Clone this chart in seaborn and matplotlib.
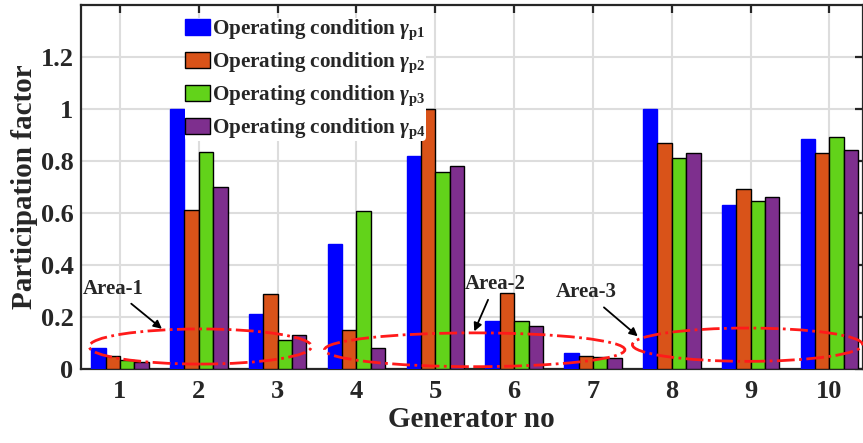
import matplotlib
matplotlib.use("Agg")
import matplotlib.pyplot as plt
import seaborn as sns
import pandas as pd
from matplotlib.patches import Ellipse, Patch

generators = ["1", "2", "3", "4", "5", "6", "7", "8", "9", "10"]
gamma_p1 = [0.081, 1.0, 0.21, 0.481, 0.819, 0.186, 0.060, 1.0, 0.631, 0.885]
gamma_p2 = [0.050, 0.612, 0.290, 0.151, 1.0, 0.291, 0.051, 0.869, 0.691, 0.831]
gamma_p3 = [0.035, 0.833, 0.112, 0.609, 0.756, 0.186, 0.046, 0.812, 0.647, 0.893]
gamma_p4 = [0.027, 0.698, 0.131, 0.082, 0.782, 0.164, 0.043, 0.832, 0.662, 0.842]
labels = [r"Operating condition $\gamma_{\mathbf{p1}}$",
          r"Operating condition $\gamma_{\mathbf{p2}}$",
          r"Operating condition $\gamma_{\mathbf{p3}}$",
          r"Operating condition $\gamma_{\mathbf{p4}}$"]
colors = ["#0000FF", "#D95319", "#62D31A", "#7E2F8E"]
edges = ["#0000FF", "#000000", "#000000", "#000000"]

sns.set_style("white")
plt.rcParams["font.family"] = ["Liberation Serif", "DejaVu Serif"]
plt.rcParams["font.weight"] = "bold"
plt.rcParams["mathtext.fontset"] = "custom"
plt.rcParams["mathtext.rm"] = "Liberation Serif"
plt.rcParams["mathtext.it"] = "Liberation Serif:italic"
plt.rcParams["mathtext.bf"] = "Liberation Serif:bold"

rows = []
for lab, vals in zip(labels, [gamma_p1, gamma_p2, gamma_p3, gamma_p4]):
    for g, v in zip(generators, vals):
        rows.append({"Generator": g, "Value": v, "Condition": lab})
df = pd.DataFrame(rows)

fig = plt.figure(figsize=(8.63, 4.43), dpi=100)
ax = fig.add_axes([0.0933, 0.167, 0.9067, 0.822])

sns.barplot(data=df, x="Generator", y="Value", hue="Condition", order=generators,
            hue_order=labels, palette=colors, saturation=1, width=0.73, gap=0, ax=ax,
            errorbar=None, legend=False, zorder=3)
for cont, ec in zip(ax.containers, edges):
    for p in cont:
        p.set_edgecolor(ec)
        p.set_linewidth(1.0)

ax.set_xlim(-0.5, 9.425)
ax.set_ylim(0, 1.4)
ax.set_yticks([0, 0.2, 0.4, 0.6, 0.8, 1.0, 1.2])
ax.set_yticklabels(["0", "0.2", "0.4", "0.6", "0.8", "1", "1.2"])
ax.grid(True, color="#DDDDDD", linewidth=1.5, zorder=0)
ax.set_axisbelow(True)
for s in ax.spines.values():
    s.set_color("#262626")
    s.set_linewidth(1.6)
ax.tick_params(direction="in", length=6, width=1.6, top=True, right=True,
               labelsize=19, colors="#262626")
ax.tick_params(axis="y", pad=5)
ax.tick_params(axis="x", pad=8)
for t in ax.get_xticklabels() + ax.get_yticklabels():
    t.set_fontweight("bold")
ax.set_xlabel("Generator no", fontsize=21, fontweight="bold", color="#262626", labelpad=2)
ax.set_ylabel("Participation factor", fontsize=21, fontweight="bold", color="#262626", labelpad=2)

# ellipses
ell_style = dict(fill=False, edgecolor="#FF1A1A", linestyle="-.", linewidth=2.0, zorder=5)
ax.add_patch(Ellipse((2.02 - 1, 0.0865), 2.82, 0.135, **ell_style))
ax.add_patch(Ellipse((5.50 - 1, 0.074), 3.81, 0.13, **ell_style))
ax.add_patch(Ellipse((8.96 - 1, 0.0935), 2.92, 0.128, **ell_style))

arrow = dict(arrowstyle="-|>", color="black", lw=1.3, mutation_scale=12)
ax.annotate("Area-1", xy=(1.56 - 1, 0.148), xytext=(0.91 - 1, 0.309), fontsize=15,
            fontweight="bold", ha="center", va="center", arrowprops=arrow, zorder=6)
ax.annotate("Area-2", xy=(5.48 - 1, 0.135), xytext=(5.757 - 1, 0.327), fontsize=15,
            fontweight="bold", ha="center", va="center", arrowprops=arrow, zorder=6)
ax.annotate("Area-3", xy=(7.595 - 1, 0.119), xytext=(6.915 - 1, 0.295), fontsize=15,
            fontweight="bold", ha="center", va="center", arrowprops=arrow, zorder=6)

handles = [Patch(facecolor=c, edgecolor=e, linewidth=1.0) for c, e in zip(colors, edges)]
leg = ax.legend(handles, labels, loc="upper left", bbox_to_anchor=(0.214, 0.96),
                bbox_transform=fig.transFigure, frameon=True, facecolor="white",
                edgecolor="none", framealpha=1, fontsize=15.2, handlelength=1.2,
                handleheight=0.8, handletextpad=0.1, labelspacing=0.4,
                borderpad=0.0, borderaxespad=0)
leg.set_zorder(4)
for t in leg.get_texts():
    t.set_fontweight("bold")

fig.savefig("out.png", dpi=100)
